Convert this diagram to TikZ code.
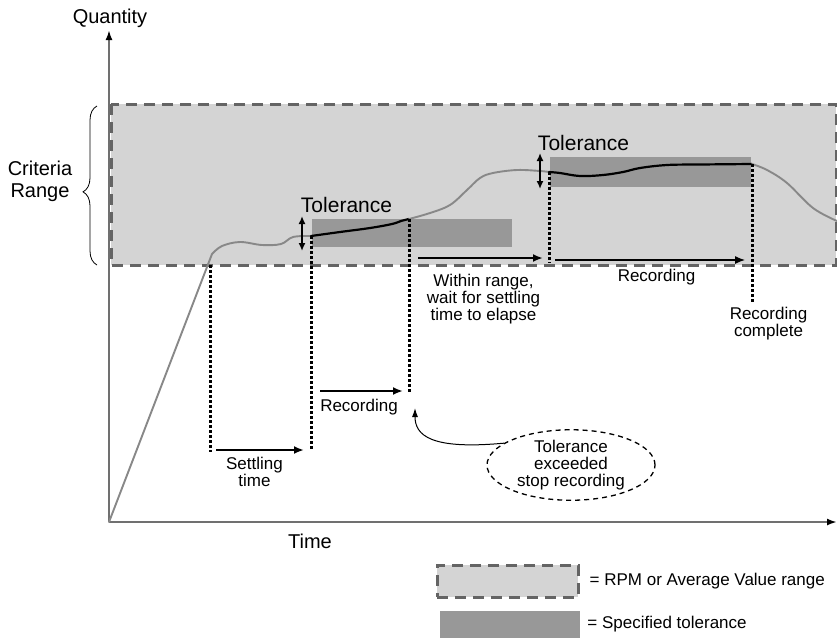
\documentclass[tikz,border=0pt]{standalone}
\usepackage{fontspec}
\setmainfont{Liberation Sans}
\usepackage{tikz}
\usetikzlibrary{arrows.meta,positioning,calc,shapes.geometric,decorations.pathreplacing}
\definecolor{rangefill}{HTML}{D4D4D4}
\definecolor{rangeedge}{HTML}{646464}
\definecolor{tolfill}{HTML}{989898}
\definecolor{tracec}{HTML}{888888}
\definecolor{axisc}{HTML}{707070}
\newcommand{\lbig}{\fontsize{20}{22}\selectfont}
\newcommand{\ltol}{\fontsize{21}{23}\selectfont}
\newcommand{\lsmall}{\fontsize{17}{17}\selectfont}
\tikzset{
  qaxis/.style={draw=axisc,line width=2pt,-{Latex[length=10pt,width=7pt,color=black]}},
  crange/.style={fill=rangefill,draw=rangeedge,line width=3pt,dash pattern=on 11pt off 7pt},
  tolband/.style={fill=tolfill,draw=none},
  trace/.style={draw=tracec,line width=1.9pt,line join=round,line cap=round},
  held/.style={draw=black,line width=2.2pt,line join=round,line cap=round},
  gate/.style={draw=black,line width=3pt,dash pattern=on 3pt off 2pt},
  run/.style={-{Latex[length=10pt,width=8pt]},line width=2pt},
  runthin/.style={run,line width=1.2pt},
  tolarrow/.style={{Latex[length=8pt,width=7pt]}-{Latex[length=8pt,width=7pt]},line width=1.8pt},
  lblbig/.style={font=\lbig,inner sep=0pt,align=center},
  lblsmall/.style={font=\lsmall,inner sep=0pt,align=center},
  tollab/.style={font=\ltol,inner sep=0pt},
  % --- dashed call-out ---
  stopnote/.style={ellipse,draw,line width=1.3pt,dash pattern=on 5pt off 4pt,
    minimum width=168pt,minimum height=70pt,font=\lsmall,align=center,inner sep=0pt},
}

\begin{document}
\begin{tikzpicture}[x=1pt,y=-1pt]
  \useasboundingbox (0,0) rectangle (837,638);
  % criteria range and the two tolerance bands
  \draw[crange] (111,104) rectangle (836,265);
  \fill[tolband] (312,219) rectangle (512,247);
  \fill[tolband] (550,157) rectangle (751,187);
  % axes
  \coordinate (o) at (109,522);
  \coordinate (ytip) at (109,30);
  \coordinate (xtip) at (837,522);
  \draw[qaxis] (o) -- (ytip);
  \draw[qaxis] (o) -- (xtip);
  \node[lblbig,anchor=base] (qty) at (110,23) {Quantity};
  \node[lblbig,anchor=base] (time) at (310,548) {Time};
  % criteria brace
  \coordinate (bra) at (97,265);
  \coordinate (brb) at (97,106);
  \draw[decorate,decoration={brace,amplitude=14pt,aspect=0.46},line width=0.8pt] (bra) -- (brb);
  \node[lblbig,anchor=base] (crit) at (40,197) {Criteria\\Range};
  % the measured quantity
  \coordinate (k1) at (311,236);
  \coordinate (k2) at (409,219);
  \coordinate (k3) at (549,172);
  \coordinate (k4) at (752,164);
  \draw[trace] (o) -- (212,254);
  \draw[trace] plot[smooth,tension=0.6] coordinates {(212,254)(222,246)(240,242)(262,245)(281,244)(293,237)(k1)};
  \draw[held] plot[smooth,tension=0.6] coordinates {(k1)(340,232)(370,228)(392,224)(401,221)(k2)};
  \draw[trace] plot[smooth,tension=0.6] coordinates {(k2)(430,213)(450,205)(467,190)(480,178)(493,173)(517,170)(540,171)(k3)};
  \draw[held] plot[smooth,tension=0.6] coordinates {(k3)(560,173)(580,176)(603,175)(623,172)(640,168)(667,165)(700,164.5)(k4)};
  \draw[trace] plot[smooth,tension=0.6] coordinates {(k4)(767,170)(787,183)(813,208)(837,221)};
  % settling / recording gates
  \coordinate (g1t) at (210,265); \coordinate (g1b) at (210,452);
  \coordinate (g2t) at (k1);      \coordinate (g2b) at (311,450);
  \coordinate (g3t) at (k2);      \coordinate (g3b) at (409,392);
  \coordinate (g4t) at (k3);      \coordinate (g4b) at (549,263);
  \coordinate (g5t) at (k4);      \coordinate (g5b) at (752,303);
  \foreach \i in {1,...,5} \draw[gate] (g\i t) -- (g\i b);
  % tolerance markers
  \coordinate (t1a) at (302,216); \coordinate (t1b) at (302,251);
  \coordinate (t2a) at (540,153); \coordinate (t2b) at (540,189);
  \draw[tolarrow] (t1a) -- (t1b);
  \draw[tolarrow] (t2a) -- (t2b);
  \node[tollab,anchor=base] (tol1) at (346.5,212) {Tolerance};
  \node[tollab,anchor=base] (tol2) at (583.5,150) {Tolerance};
  % phase arrows
  \coordinate (sa) at (216,450); \coordinate (sb) at (304,450);
  \coordinate (ra) at (320,391); \coordinate (rb) at (403,391);
  \coordinate (wa) at (418,258); \coordinate (wb) at (543,258);
  \coordinate (ua) at (555,260); \coordinate (ub) at (745,260);
  \draw[run] (sa) -- (sb);
  \draw[run] (ra) -- (rb);
  \draw[run] (wa) -- (wb);
  \draw[runthin] (ua) -- (ub);
  \node[lblsmall,anchor=base] (settle) at (254.5,486) {Settling\\time};
  \node[lblsmall,anchor=base] (rec1) at (359,411) {Recording};
  \node[lblsmall,anchor=base] (wait) at (483.5,320) {Within range,\\wait for settling\\time to elapse};
  \node[lblsmall,anchor=base] (rec2) at (656.5,281) {Recording};
  \node[lblsmall,anchor=base] (done) at (768.5,336) {Recording\\complete};
  % call-out
  \node[stopnote] (stop) at (571,465) {Tolerance\\exceeded\\stop recording};
  \coordinate (stoptip) at (415,408);
  \draw[-{Latex[length=9pt,width=6pt]},line width=1pt] (stop.162) .. controls (430,450) and (415,435) .. (stoptip);
  % key
  \node[crange,minimum width=141pt,minimum height=32pt,inner sep=0pt] (keyrange) at (507.5,581) {};
  \node[tolband,minimum width=140pt,minimum height=27pt,inner sep=0pt] (keytol) at (510,624.5) {};
  \node[lblsmall,anchor=west,right=10pt of keyrange] (keyrangelab) {= RPM or Average Value range};
  \node[lblsmall,anchor=west,right=7pt of keytol] (keytollab) {= Specified tolerance};
\end{tikzpicture}
\end{document}
